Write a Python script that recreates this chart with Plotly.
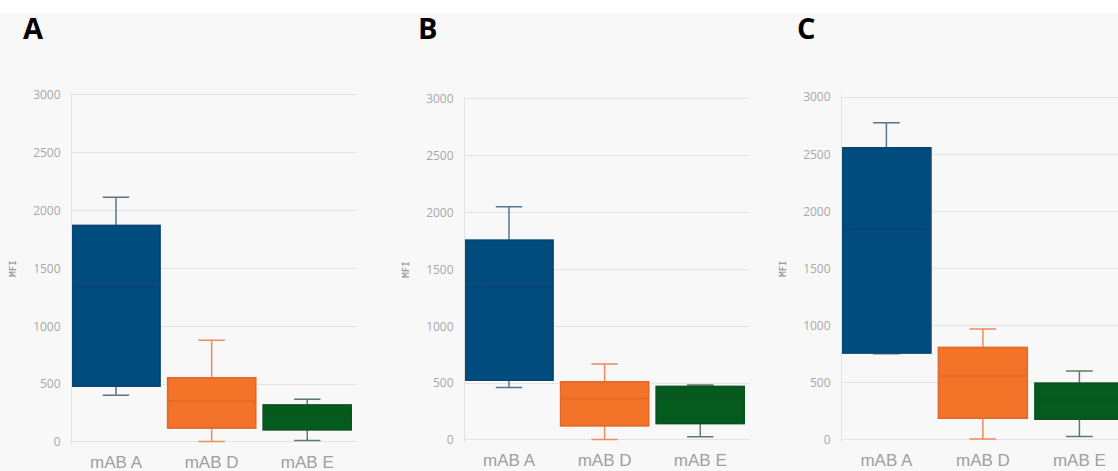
import plotly.graph_objects as go

# Antibody categories shown in every panel
categories = ["mAB A", "mAB D", "mAB E"]
panel_labels = ["A", "B", "C"]

# Box statistics per panel (order follows `categories`)
panel_a_lower = [405, 5, 12]
panel_a_q1 = [482, 120, 105]
panel_a_median = [1342, 355, 250]
panel_a_q3 = [1872, 555, 320]
panel_a_upper = [2115, 880, 370]

panel_b_lower = [462, 5, 28]
panel_b_q1 = [526, 125, 146]
panel_b_median = [1349, 365, 375]
panel_b_q3 = [1757, 513, 470]
panel_b_upper = [2052, 668, 485]

panel_c_lower = [755, 8, 30]
panel_c_q1 = [762, 190, 181]
panel_c_median = [1850, 560, 350]
panel_c_q3 = [2559, 810, 496]
panel_c_upper = [2778, 972, 604]

y_ticks = [0, 500, 1000, 1500, 2000, 2500, 3000]

panels = [
    (panel_a_lower, panel_a_q1, panel_a_median, panel_a_q3, panel_a_upper),
    (panel_b_lower, panel_b_q1, panel_b_median, panel_b_q3, panel_b_upper),
    (panel_c_lower, panel_c_q1, panel_c_median, panel_c_q3, panel_c_upper),
]

fills = ["#004c7e", "#f37329", "#045b1d"]
whisker_colors = ["#56758e", "#ec8a60", "#5d7c65"]
edge_colors = ["#0b4470", "#e0692b", "#0b5221"]

W, H = 1118, 471

# Pixel layout of each subplot: left, right, y-pixel of value 0, y-pixel of 3000
frames = [
    (72, 357, 442.0, 95.0),
    (465, 750, 440.0, 99.0),
    (842, 1118, 440.0, 97.3),
]
x_ranges = [[-0.46, 2.52], [-0.46, 2.52], [-0.46, 2.40]]
label_x = [21, 416, 795]

fig = go.Figure()

layout = dict(
    width=W,
    height=H,
    margin=dict(l=0, r=0, t=0, b=0),
    paper_bgcolor="#ffffff",
    plot_bgcolor="rgba(0,0,0,0)",
    showlegend=False,
    boxmode="overlay",
    hovermode=False,
    shapes=[
        dict(type="rect", xref="paper", yref="paper", x0=0, x1=1, y0=0,
             y1=(H - 13) / H, fillcolor="#f8f8f8", line=dict(width=0),
             layer="below"),
    ],
    annotations=[],
)

for p, (stats, frame, xr) in enumerate(zip(panels, frames, x_ranges)):
    lower, q1, med, q3, upper = stats
    left, right, y0px, y3000px = frame
    suffix = "" if p == 0 else str(p + 1)
    xa, ya = "x" + suffix, "y" + suffix

    ymin, ymax = -20, 3020
    scale = (y0px - y3000px) / 3000.0
    bottom_px = y0px - ymin * scale
    top_px = y3000px - (ymax - 3000) * scale

    for i, cat in enumerate(categories):
        # full box with whiskers
        fig.add_trace(go.Box(
            x=[cat], q1=[q1[i]], median=[med[i]], q3=[q3[i]],
            lowerfence=[lower[i]], upperfence=[upper[i]],
            width=0.92, whiskerwidth=0.3,
            fillcolor=fills[i],
            line=dict(color=whisker_colors[i], width=1.5),
            xaxis=xa, yaxis=ya, boxpoints=False,
        ))
        # box body edge and median in a deeper shade
        fig.add_trace(go.Box(
            x=[cat], q1=[q1[i]], median=[med[i]], q3=[q3[i]],
            lowerfence=[q1[i]], upperfence=[q3[i]],
            width=0.92, whiskerwidth=0,
            fillcolor=fills[i],
            line=dict(color=edge_colors[i], width=1.5),
            xaxis=xa, yaxis=ya, boxpoints=False,
        ))

    layout["xaxis" + suffix] = dict(
        domain=[left / W, right / W],
        anchor=ya,
        type="category",
        categoryorder="array",
        categoryarray=categories,
        range=xr,
        automargin=False,
        showgrid=False,
        zeroline=False,
        showline=False,
        ticks="",
        tickfont=dict(family="Liberation Sans", size=17, color="#a0a0a0"),
        ticklabelstandoff=6,
        fixedrange=True,
    )
    layout["yaxis" + suffix] = dict(
        domain=[(H - bottom_px) / H, (H - top_px) / H],
        anchor=xa,
        range=[ymin, ymax],
        automargin=False,
        tickvals=y_ticks,
        showgrid=True,
        gridcolor="#e4e4e4",
        gridwidth=1,
        zeroline=False,
        showline=True,
        linecolor="#e2e2e2",
        linewidth=1,
        ticks="",
        ticklabelstandoff=8,
        tickfont=dict(family="Open Sans", size=12, color="#a8a8a8"),
        title=dict(text="MFI", standoff=14,
                   font=dict(family="DejaVu Sans Mono", size=9, color="#8a8a8a")),
        fixedrange=True,
    )

    layout["annotations"].append(dict(
        text="<b>%s</b>" % panel_labels[p],
        xref="paper", yref="paper",
        x=label_x[p] / W, y=(H - 28) / H,
        xanchor="left", yanchor="middle",
        showarrow=False,
        font=dict(family="Open Sans", size=29, color="#000000"),
    ))

fig.update_layout(**layout)
fig.write_html("out.html")
